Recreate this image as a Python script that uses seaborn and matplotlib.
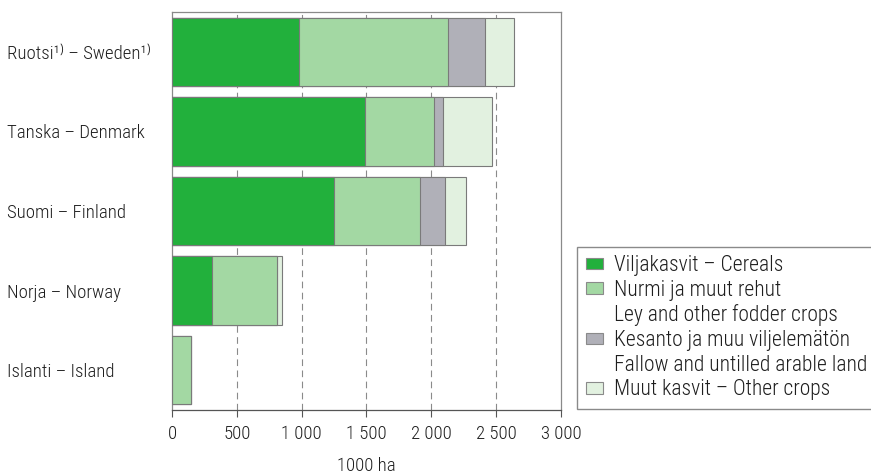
import numpy as np
import pandas as pd
import seaborn as sns
import matplotlib.pyplot as plt
from matplotlib.patches import Patch

# data (1000 ha)
countries = ['Ruotsi¹⁾ – Sweden¹⁾', 'Tanska – Denmark', 'Suomi – Finland',
             'Norja – Norway', 'Islanti – Island']
cereals = [979, 1492, 1251, 305, 0]
fodder = [1149, 526, 662, 503, 143]
fallow = [284, 72, 189, 0, 0]
other = [226, 379, 164, 38, 0]

series_names = ['Viljakasvit – Cereals', 'Nurmi ja muut rehut',
                'Kesanto ja muu viljelemätön', 'Muut kasvit – Other crops']
second_lines = {'Nurmi ja muut rehut': 'Ley and other fodder crops',
                'Kesanto ja muu viljelemätön': 'Fallow and untilled arable land'}
colors = ['#22b03c', '#a3d8a3', '#b0b0b8', '#e2f1e0']
xticks = [0, 500, 1000, 1500, 2000, 2500, 3000]
xticklabels = ['0', '500', '1 000', '1 500', '2 000', '2 500', '3 000']

sns.set_style('white')
plt.rcParams['font.family'] = ['Roboto Condensed', 'DejaVu Sans']
plt.rcParams['font.weight'] = 300
plt.rcParams['text.color'] = '#1e1e1e'
FS = 13.5

df = pd.DataFrame({'country': countries, 'c': cereals, 'f': fodder,
                   'w': fallow, 'o': other})
# cumulative sums for stacking (draw largest first)
df['s1'] = df['c']
df['s2'] = df['s1'] + df['f']
df['s3'] = df['s2'] + df['w']
df['s4'] = df['s3'] + df['o']

fig = plt.figure(figsize=(8.71, 4.75), dpi=100)
ax = fig.add_axes([0.1975, 0.1368, 0.4465, 0.838])

for col, color in zip(['s4', 's3', 's2', 's1'], colors[::-1]):
    sns.barplot(data=df, x=col, y='country', color=color, orient='h',
                width=0.86, edgecolor='#7a7a7a', linewidth=0.8,
                saturation=1, ax=ax, zorder=3)

for xv in xticks[1:-1]:
    ax.axvline(xv, color='#8a8a8a', linestyle=(0, (6, 4)), linewidth=0.8, zorder=1)

ax.set_xlim(0, 3000)
ax.set_ylim(4.5, -0.5)
ax.set_xticks(xticks)
ax.set_xticklabels(xticklabels, fontsize=FS, color='#1e1e1e')
ax.tick_params(axis='x', length=5, width=0.8, color='#555555', bottom=True, pad=6)
# country names left-aligned near the figure edge
ax.tick_params(axis='y', length=0, labelsize=FS, labelcolor='#1e1e1e', pad=118.5)
for lbl in ax.get_yticklabels():
    lbl.set_ha('left')
ax.set_ylabel('')
ax.set_xlabel('1000 ha', fontsize=FS, color='#1e1e1e', fontweight=300)
ax.xaxis.label.set_va('center')
ax.xaxis.set_label_coords(0.5, -0.141)
for sp in ax.spines.values():
    sp.set_visible(True)
    sp.set_color('#8a8a8a')
    sp.set_linewidth(0.9)
ax.spines['bottom'].set_color('#555555')

# legend: second language lines as separate rows without handles
handles, labels = [], []
for name, color in zip(series_names, colors):
    handles.append(Patch(facecolor=color, edgecolor='#8a8a8a', linewidth=0.8))
    labels.append(name)
    if name in second_lines:
        handles.append(Patch(facecolor='none', edgecolor='none'))
        labels.append(second_lines[name])

fig.legend(handles, labels, loc='upper left', bbox_to_anchor=(0.6625, 0.481),
           frameon=True, fancybox=False, edgecolor='#8a8a8a', framealpha=1,
           fontsize=15.5, handlelength=0.8, handleheight=0.45, handletextpad=0.5,
           labelspacing=0.17, borderpad=0.4, borderaxespad=0)

fig.savefig('out.png', dpi=100)
